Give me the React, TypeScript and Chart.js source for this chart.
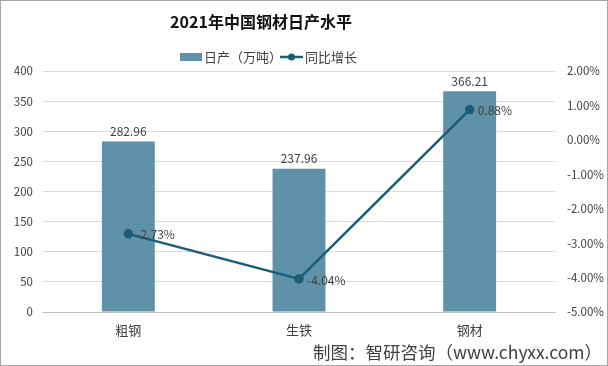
import React, { useEffect, useRef } from "react";
import { Chart, registerables } from "chart.js";

Chart.register(...registerables);

const title = "2021年中国钢材日产水平";
const source = "制图：智研咨询（www.chyxx.com）";
const categories = ["粗钢", "生铁", "钢材"];
const barLabel = "日产（万吨）";
const lineLabel = "同比增长";
const dailyOutput = [282.96, 237.96, 366.21];
const yoyGrowth = [-2.73, -4.04, 0.88];

const BAR_COLOR = "#5f91a8";
const LINE_COLOR = "#1b5c79";
const TEXT = "#404040";
const FONT = "'Noto Sans CJK SC', 'Noto Sans', sans-serif";

const decorPlugin = {
  id: "decor",
  afterDraw(chart: any) {
    const ctx = chart.ctx;
    ctx.save();
    // border
    ctx.strokeStyle = "#a6a6a6";
    ctx.lineWidth = 1;
    ctx.strokeRect(0.5, 0.5, chart.width - 1, chart.height - 1);
    // title
    ctx.fillStyle = "#111";
    ctx.font = `bold 16px ${FONT}`;
    ctx.textAlign = "center";
    ctx.textBaseline = "middle";
    ctx.fillText(title, 261, 22);
    // legend
    ctx.font = `13px ${FONT}`;
    ctx.textAlign = "left";
    ctx.fillStyle = BAR_COLOR;
    ctx.fillRect(180, 53, 22, 8);
    ctx.fillStyle = TEXT;
    ctx.fillText(chart.data.datasets[0].label, 204, 57);
    ctx.strokeStyle = LINE_COLOR;
    ctx.lineWidth = 2.5;
    ctx.beginPath();
    ctx.moveTo(280, 57);
    ctx.lineTo(303, 57);
    ctx.stroke();
    ctx.fillStyle = LINE_COLOR;
    ctx.beginPath();
    ctx.arc(291.5, 57, 3.5, 0, Math.PI * 2);
    ctx.fill();
    ctx.fillStyle = TEXT;
    ctx.fillText(chart.data.datasets[1].label, 305, 57);
    // source
    ctx.font = `17.5px ${FONT}`;
    ctx.textAlign = "right";
    ctx.fillStyle = TEXT;
    ctx.fillText(source, 602, 352);
    // data labels
    ctx.font = `12px ${FONT}`;
    const barMeta = chart.getDatasetMeta(0);
    barMeta.data.forEach((el: any, i: number) => {
      ctx.textAlign = "center";
      ctx.textBaseline = "bottom";
      ctx.fillStyle = TEXT;
      ctx.fillText(dailyOutput[i].toFixed(2), el.x, el.y - 4);
    });
    const lineMeta = chart.getDatasetMeta(1);
    lineMeta.data.forEach((el: any, i: number) => {
      ctx.textAlign = "left";
      ctx.textBaseline = "middle";
      ctx.fillStyle = TEXT;
      ctx.fillText(yoyGrowth[i].toFixed(2) + "%", el.x + 8, el.y + 1);
    });
    ctx.restore();
  },
};

export default function App() {
  const ref = useRef<HTMLCanvasElement>(null);
  useEffect(() => {
    document.body.style.margin = "0";
    const chart = new Chart(ref.current!, {
      type: "bar",
      data: {
        labels: categories,
        datasets: [
          {
            type: "bar",
            label: barLabel,
            data: dailyOutput,
            yAxisID: "y",
            backgroundColor: BAR_COLOR,
            categoryPercentage: 1,
            barPercentage: 0.31,
            order: 1,
          } as any,
          {
            type: "line",
            label: lineLabel,
            data: yoyGrowth,
            yAxisID: "y1",
            borderColor: LINE_COLOR,
            backgroundColor: LINE_COLOR,
            borderWidth: 2.5,
            pointRadius: 3.5,
            pointBackgroundColor: LINE_COLOR,
            pointBorderColor: LINE_COLOR,
            tension: 0,
            order: 0,
          } as any,
        ],
      },
      options: {
        animation: false,
        responsive: false,
        layout: { padding: { top: 71, left: 0, right: 0, bottom: 0 } },
        plugins: {
          legend: { display: false },
          title: { display: false },
          tooltip: { enabled: false },
        },
        scales: {
          x: {
            grid: { display: false },
            border: { display: true, color: "#bfbfbf" },
            ticks: { color: TEXT, font: { family: FONT, size: 13 }, padding: 2 },
            afterFit(s: any) {
              s.height = 54;
            },
          },
          y: {
            position: "left",
            min: 0,
            max: 400,
            ticks: {
              stepSize: 50,
              color: TEXT,
              font: { family: FONT, size: 11.5 },
              padding: 10,
            },
            grid: { color: "#d9d9d9", drawTicks: false },
            border: { display: false },
            afterFit(s: any) {
              s.width = 43;
            },
          },
          y1: {
            position: "right",
            min: -5,
            max: 2,
            ticks: {
              stepSize: 1,
              color: TEXT,
              font: { family: FONT, size: 11.5 },
              padding: 12,
              callback: (v: any) => Number(v).toFixed(2) + "%",
            },
            grid: { display: false, drawTicks: false },
            border: { display: false },
            afterFit(s: any) {
              s.width = 53;
            },
          },
        },
      },
      plugins: [decorPlugin],
    });
    return () => chart.destroy();
  }, []);
  return (
    <div style={{ width: 608, height: 366 }}>
      <canvas ref={ref} width={608} height={366} style={{ display: "block" }} />
    </div>
  );
}
